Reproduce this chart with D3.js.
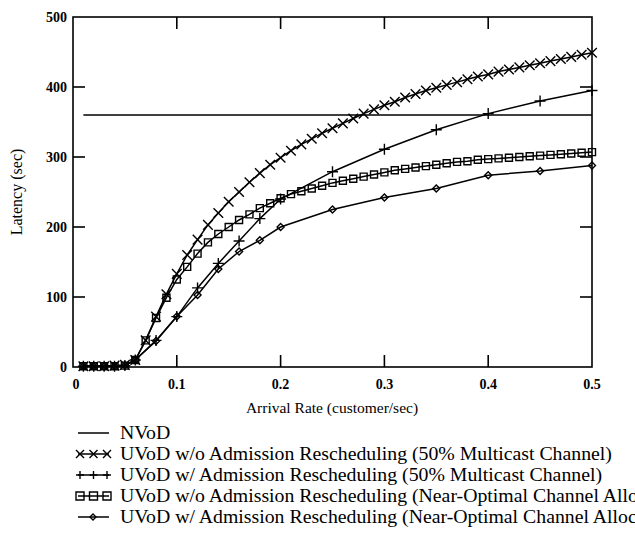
<!DOCTYPE html>
<html>
<head>
<meta charset="utf-8">
<script src="https://cdn.jsdelivr.net/npm/d3@7"></script>
<style>
  body { margin: 0; padding: 0; background: #fff; }
  svg { display: block; }
  text { font-family: "Liberation Serif", "Times New Roman", serif; fill: #000; }
</style>
</head>
<body>
<div id="main"></div>
<script>
const w = 635;
const h = 535;

// arrival rates (customer/sec)
const rateDense = [0.01,0.02,0.03,0.04,0.05,0.06,0.07,0.08,0.09,0.10,
                   0.11,0.12,0.13,0.14,0.15,0.16,0.17,0.18,0.19,0.20,
                   0.21,0.22,0.23,0.24,0.25,0.26,0.27,0.28,0.29,0.30,
                   0.31,0.32,0.33,0.34,0.35,0.36,0.37,0.38,0.39,0.40,
                   0.41,0.42,0.43,0.44,0.45,0.46,0.47,0.48,0.49,0.50];
const rateSparse = [0.01,0.02,0.03,0.04,0.05,0.06,0.08,0.10,0.12,0.14,
                    0.16,0.18,0.20,0.25,0.30,0.35,0.40,0.45,0.50];

// latency (sec)
const nvodRate = [0.01, 0.50];
const nvodLatency = [360, 360];
const woMulticast = [1,1,1,2,3,10,38,72,104,133,
                     160,182,203,220,236,250,264,277,289,299,
                     309,318,326,334,341,348,355,362,368,374,
                     379,385,390,395,399,403,407,411,415,418,
                     422,425,428,431,434,437,440,443,446,449];
const wMulticast = [1,1,1,1,2,10,38,72,113,148,180,212,240,279,311,339,362,380,395];
const woNearOpt = [1,1,1,1,2,10,38,70,99,125,
                   143,162,178,190,200,210,218,227,234,241,
                   247,251,255,259,263,266,269,272,275,278,
                   281,283,285,287,289,291,293,294,296,297,
                   298,299,300,301,302,303,304,305,306,307];
const wNearOpt = [1,1,1,1,2,10,37,72,103,140,165,181,200,225,242,255,274,280,288];

const yTicks = [0,100,200,300,400,500];
const xTicks = [0,0.1,0.2,0.3,0.4,0.5];
const xTickLabels = ['0','0.1','0.2','0.3','0.4','0.5'];

const legendLabels = [
  'NVoD',
  'UVoD w/o Admission Rescheduling (50% Multicast Channel)',
  'UVoD w/ Admission Rescheduling (50% Multicast Channel)',
  'UVoD w/o Admission Rescheduling (Near-Optimal Channel Alloc.)',
  'UVoD w/ Admission Rescheduling (Near-Optimal Channel Alloc.)'
];

const plotL = 73, plotR = 592, plotT = 17, plotB = 367;

const xScale = d3.scaleLinear().domain([0, 0.5]).range([plotL, plotR]);
const yScale = d3.scaleLinear().domain([0, 500]).range([plotB, plotT]);

const svg = d3.select('#main')
              .append('svg')
              .attr('width', w)
              .attr('height', h);

// markers
const markers = {
  cross: s => `M${-s},${-s}L${s},${s}M${-s},${s}L${s},${-s}`,
  plus: s => `M${-s},0H${s}M0,${-s}V${s}`,
  square: s => `M${-s},${-s}H${s}V${s}H${-s}Z`,
  diamond: s => `M0,${-s}L${s},0L0,${s}L${-s},0Z`
};

const series = [
  { rate: nvodRate, lat: nvodLatency, marker: null },
  { rate: rateDense, lat: woMulticast, marker: 'cross', size: 4.8 },
  { rate: rateSparse, lat: wMulticast, marker: 'plus', size: 5.5 },
  { rate: rateDense, lat: woNearOpt, marker: 'square', size: 3.5 },
  { rate: rateSparse, lat: wNearOpt, marker: 'diamond', size: 3.5 }
];

// ticks inward on all four sides
const tickLen = 12;
const frame = svg.append('g').attr('stroke', '#000').attr('stroke-width', 1.6).attr('fill', 'none');
frame.append('rect')
     .attr('x', plotL).attr('y', plotT)
     .attr('width', plotR - plotL).attr('height', plotB - plotT);

yTicks.slice(1, -1).forEach(v => {
  frame.append('line').attr('x1', plotL).attr('x2', plotL + tickLen)
       .attr('y1', yScale(v)).attr('y2', yScale(v));
  frame.append('line').attr('x1', plotR).attr('x2', plotR - tickLen)
       .attr('y1', yScale(v)).attr('y2', yScale(v));
});
xTicks.slice(1, -1).forEach(v => {
  frame.append('line').attr('y1', plotB).attr('y2', plotB - tickLen)
       .attr('x1', xScale(v)).attr('x2', xScale(v));
  frame.append('line').attr('y1', plotT).attr('y2', plotT + tickLen)
       .attr('x1', xScale(v)).attr('x2', xScale(v));
});

// tick labels
svg.selectAll('.ylab')
   .data(yTicks)
   .enter()
   .append('text')
   .attr('x', plotL - 6)
   .attr('y', d => yScale(d) + 5)
   .attr('text-anchor', 'end')
   .attr('font-size', '14px')
   .attr('font-weight', 'bold')
   .text(d => d);

svg.selectAll('.xlab')
   .data(xTicks)
   .enter()
   .append('text')
   .attr('x', (d, i) => xScale(d) + (i === 0 ? 3 : 0))
   .attr('y', plotB + 22)
   .attr('text-anchor', 'middle')
   .attr('font-size', '14px')
   .attr('font-weight', 'bold')
   .text((d, i) => xTickLabels[i]);

svg.append('text')
   .text('Latency (sec)')
   .attr('transform', 'rotate(-90)')
   .attr('x', -192)
   .attr('y', 22)
   .attr('text-anchor', 'middle')
   .attr('font-size', '16px');

svg.append('text')
   .text('Arrival Rate (customer/sec)')
   .attr('x', 332)
   .attr('y', plotB + 46)
   .attr('text-anchor', 'middle')
   .attr('font-size', '15.5px');

// lines and markers
const line = d3.line().x(d => xScale(d[0])).y(d => yScale(d[1]));

series.forEach(s => {
  const pts = s.rate.map((r, i) => [r, s.lat[i]]);
  svg.append('path')
     .datum(pts)
     .attr('d', line)
     .attr('fill', 'none')
     .attr('stroke', '#000')
     .attr('stroke-width', 1.5);
  if (s.marker) {
    svg.append('g')
       .selectAll('path')
       .data(pts)
       .enter()
       .append('path')
       .attr('transform', d => `translate(${xScale(d[0])},${yScale(d[1])})`)
       .attr('d', markers[s.marker](s.size))
       .attr('fill', 'none')
       .attr('stroke', '#000')
       .attr('stroke-width', 1.4);
  }
});

// legend
const lg = svg.append('g');
legendLabels.forEach((label, i) => {
  const y = 433 + i * 21;
  const s = series[i];
  lg.append('line')
    .attr('x1', 78).attr('x2', 109)
    .attr('y1', y).attr('y2', y)
    .attr('stroke', '#000').attr('stroke-width', 1.5);
  if (s.marker) {
    const xs = s.marker === 'diamond' ? [93] : [80, 93.5, 107];
    xs.forEach(x => {
      lg.append('path')
        .attr('transform', `translate(${x},${y})`)
        .attr('d', markers[s.marker](s.marker === 'diamond' ? 3 : 4))
        .attr('fill', 'none')
        .attr('stroke', '#000')
        .attr('stroke-width', 1.4);
    });
  }
  lg.append('text')
    .attr('x', 120)
    .attr('y', y + 6)
    .attr('font-size', '19.8px')
    .text(label);
});
</script>
</body>
</html>
